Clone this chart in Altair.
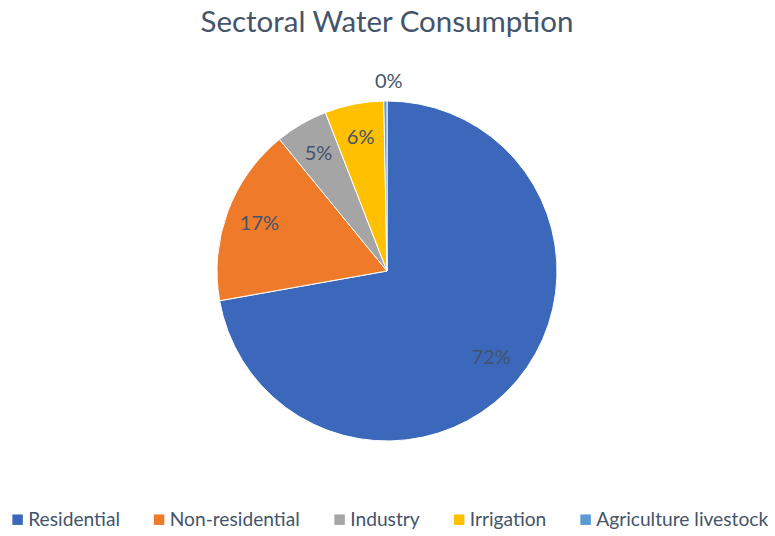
import altair as alt
import pandas as pd

categories = ["Residential", "Non-residential", "Industry", "Irrigation", "Agriculture livestock"]
shares = [72.2, 16.9, 5.0, 5.6, 0.3]
colors = ["#3B68BA", "#EF7B2A", "#A5A5A5", "#FFC000", "#5B9BD5"]

df = pd.DataFrame({"sector": categories, "share": shares, "idx": list(range(len(categories)))})

FONT = "Lato"
TXT = "#44546A"

base = alt.Chart(df).transform_calculate(
    pct="datum.share / 100"
).encode(
    theta=alt.Theta("share:Q", stack=True),
    order=alt.Order("idx:Q", sort="ascending"),
)

pie = base.mark_arc(outerRadius=170, stroke="white", strokeWidth=1).encode(
    color=alt.Color(
        "sector:N",
        scale=alt.Scale(domain=categories, range=colors),
        sort=categories,
        legend=alt.Legend(
            title=None,
            orient="none",
            legendX=8,
            legendY=460,
            direction="horizontal",
            symbolType="square",
            symbolSize=110,
            symbolStrokeWidth=0,
            labelFontSize=19.2,
            labelFont=FONT,
            labelColor=TXT,
            labelOffset=1,
            labelLimit=400,
            columnPadding=29.5,
        ),
    )
)

inner = base.transform_filter("datum.share >= 1").mark_text(
    radius=136, fontSize=20, font=FONT, color=TXT
).encode(text=alt.Text("pct:Q", format=".0%"))

outer = base.transform_filter("datum.share < 1").mark_text(
    radius=189, fontSize=20, font=FONT, color=TXT
).encode(text=alt.Text("pct:Q", format=".0%"))

chart = alt.layer(pie, inner, outer).properties(
    width=774,
    height=442,
    padding={"left": 0, "top": 50, "right": 0, "bottom": 44},
    autosize=alt.AutoSizeParams(type="none"),
    title=alt.TitleParams(
        "Sectoral Water Consumption",
        fontSize=29.5,
        font=FONT,
        fontWeight="normal",
        color=TXT,
        anchor="middle",
        offset=12,
    ),
).configure_view(stroke=None).configure(background="white")

chart.save("out.html", embed_options={"renderer": "svg", "actions": False})
